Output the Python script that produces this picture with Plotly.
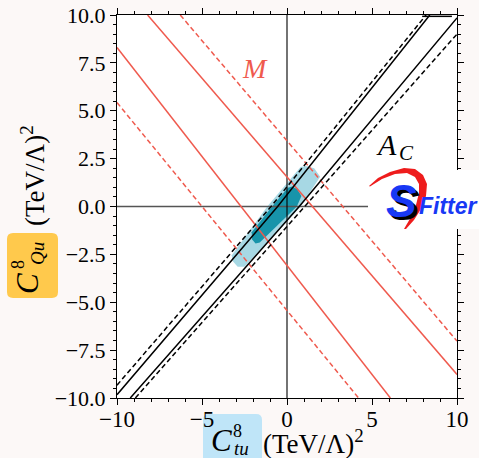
import plotly.graph_objects as go

# ---------------- data ----------------
# M constraint (red), straight bands
red_solid_a_x = [-10.0, 6.08];  red_solid_a_y = [8.3, -10.0]
red_solid_b_x = [-8.2, 10.0];   red_solid_b_y = [10.0, -8.77]
red_dash_a_x = [-10.0, 4.21];   red_dash_a_y = [5.43, -10.0]
red_dash_b_x = [-6.28, 10.0];   red_dash_b_y = [10.0, -7.03]

# A_C constraint (black)
blk_up_dash_x = [-10.0, -0.94, 8.18];  blk_up_dash_y = [-9.33, 0.0, 10.0]
blk_up_sol_x = [-10.0, -0.55, 8.4];    blk_up_sol_y = [-9.83, 0.0, 10.0]
blk_lo_sol_x = [-9.22, 0.72, 10.0];    blk_lo_sol_y = [-10.0, 0.0, 9.85]
blk_lo_dash_x = [-8.92, 1.02, 10.0];   blk_lo_dash_y = [-10.0, 0.0, 9.0]
blk_top_x = [7.95, 9.7];               blk_top_y = [9.93, 9.93]

# combined fit regions
light_x = [0.8, 1.1, 1.6, 1.95, 0.8, -2.5, -2.9, -3.2, -3.25, -1.16, 0.8]
light_y = [2.06, 2.12, 2.0, 1.55, 0.0, -3.15, -3.15, -2.85, -2.55, 0.0, 2.06]
dark_x = [0.05, 0.3, 0.6, 0.85, 0.58, -1.6, -1.85, -2.05, -2.08, -0.88, 0.05]
dark_y = [0.98, 1.04, 0.92, 0.55, 0.0, -1.88, -1.93, -1.72, -1.35, 0.0, 0.98]

x_tickvals = [-10, -5, 0, 5, 10]
x_ticktext = ["\u221210", "\u22125", "0", "5", "10"]
y_tickvals = [-10, -7.5, -5, -2.5, 0, 2.5, 5, 7.5, 10]
y_ticktext = ["\u221210.0", "\u22127.5", "\u22125.0", "\u22122.5", "0.0", "2.5", "5.0", "7.5", "10.0"]

# ---------------- layout helpers ----------------
W, H = 479, 458
L, R, T, B = 117, 457, 15, 398
SERIF = "Liberation Serif"
RED = "#ef5a4e"
LIGHT = "#a7d8e4"
DARK = "#1794aa"


def pp(x, y):
    return ((x - L) / (R - L), (B - y) / (B - T))


def rrect(x0, y0, x1, y1, r):
    def P(x, y):
        a, b = pp(x, y)
        return f"{a:.5f},{b:.5f}"
    s = f"M {P(x0 + r, y0)} L {P(x1 - r, y0)} Q {P(x1, y0)} {P(x1, y0 + r)} "
    s += f"L {P(x1, y1 - r)} Q {P(x1, y1)} {P(x1 - r, y1)} "
    s += f"L {P(x0 + r, y1)} Q {P(x0, y1)} {P(x0, y1 - r)} "
    s += f"L {P(x0, y0 + r)} Q {P(x0, y0)} {P(x0 + r, y0)} Z"
    return s


def path_px(points):
    parts = []
    for i, (x, y) in enumerate(points):
        a, b = pp(x, y)
        parts.append(("M " if i == 0 else "L ") + f"{a:.5f},{b:.5f}")
    return " ".join(parts) + " Z"


fig = go.Figure()

fig.add_trace(go.Scatter(x=light_x, y=light_y, fill="toself", fillcolor=LIGHT,
                         mode="lines", line=dict(width=0), hoverinfo="skip"))
fig.add_trace(go.Scatter(x=dark_x, y=dark_y, fill="toself", fillcolor=DARK,
                         mode="lines", line=dict(width=0), hoverinfo="skip"))

# zero lines
fig.add_trace(go.Scatter(x=[-10, 10], y=[0, 0], mode="lines", line=dict(color="#555555", width=1.6)))
fig.add_trace(go.Scatter(x=[0, 0], y=[-10, 10], mode="lines", line=dict(color="black", width=1.1)))

for xs, ys, d in [(red_solid_a_x, red_solid_a_y, "solid"), (red_solid_b_x, red_solid_b_y, "solid"),
                  (red_dash_a_x, red_dash_a_y, "5px,3px"), (red_dash_b_x, red_dash_b_y, "5px,3px")]:
    fig.add_trace(go.Scatter(x=xs, y=ys, mode="lines", line=dict(color=RED, width=1.5, dash=d)))

for xs, ys, d in [(blk_up_dash_x, blk_up_dash_y, "5px,3px"), (blk_up_sol_x, blk_up_sol_y, "solid"),
                  (blk_lo_sol_x, blk_lo_sol_y, "solid"), (blk_lo_dash_x, blk_lo_dash_y, "5px,3px"),
                  (blk_top_x, blk_top_y, "solid")]:
    fig.add_trace(go.Scatter(x=xs, y=ys, mode="lines", line=dict(color="black", width=1.5, dash=d)))

shapes = []
# label boxes
shapes.append(dict(type="path", xref="paper", yref="paper", layer="below",
                   path=rrect(7, 233, 58, 298, 6), fillcolor="#ffc94c", line=dict(width=0)))
shapes.append(dict(type="path", xref="paper", yref="paper", layer="below",
                   path=rrect(203, 414, 262, 466, 6), fillcolor="#bfe5f8", line=dict(width=0)))
# logo white background
x0, y0 = pp(368, 170)
x1, y1 = pp(479, 229)
shapes.append(dict(type="rect", xref="paper", yref="paper", layer="above",
                   x0=x0, x1=x1, y0=y1, y1=y0, fillcolor="white", line=dict(width=0)))
# red swoosh
swoosh = [(369, 186), (378, 178), (390, 172), (404, 168), (415, 169), (423, 175), (427, 184),
          (426, 196), (421, 209), (414, 220), (406, 229), (404, 229), (411, 217), (416, 205),
          (419, 193), (419, 184), (415, 177), (407, 173), (395, 174), (382, 179), (370, 186.5)]
shapes.append(dict(type="path", xref="paper", yref="paper", layer="above",
                   path=path_px(swoosh), fillcolor="#ee1c1c", line=dict(width=0)))

ann = []


def A(text, x, y, size, color="black", angle=0, family=SERIF, xa="center", ya="middle"):
    a, b = pp(x, y)
    ann.append(dict(text=text, x=a, y=b, xref="paper", yref="paper", showarrow=False,
                    xanchor=xa, yanchor=ya, textangle=angle,
                    font=dict(family=family, size=size, color=color)))


# logo text
A("<b><i>S</i></b>", 404, 204, 46, color="black", family="Liberation Sans")
A("<b><i>S</i></b>", 401, 201, 46, color="#1838f5", family="Liberation Sans")
A("<b><i>Fitter</i></b>", 448, 206, 23, color="#1838f5", family="Liberation Sans")

# in-plot labels
A("<i>M</i>", 255, 68, 28, color=RED)
A("<i>A</i>", 386, 144, 30)
A("<i>C</i>", 406, 153, 21)

# x label
A("<i>C</i>", 221, 440, 31)
A("8", 237, 431, 18)
A("<i>tu</i>", 241, 448, 19)
A("(TeV/\u039b)<sup>2</sup>", 313, 442, 27)

# y label (rotated)
A("<i>C</i>", 27, 284, 31, angle=-90)
A("8", 18, 265, 18, angle=-90)
A("<i>Qu</i>", 37, 254, 19, angle=-90)
A("(TeV/\u039b)<sup>2</sup>", 33, 176, 27, angle=-90)

fig.update_layout(
    width=W, height=H, showlegend=False,
    margin=dict(l=L, r=W - R, t=T, b=H - B, pad=0, autoexpand=False),
    paper_bgcolor="#fcf8f7", plot_bgcolor="white",
    shapes=shapes, annotations=ann,
    font=dict(family=SERIF, size=20, color="black"),
)
fig.update_xaxes(range=[-10, 10], tickvals=x_tickvals, ticktext=x_ticktext, automargin=False,
                 ticks="outside", ticklen=6, tickwidth=1, tickcolor="black",
                 showline=True, linecolor="black", linewidth=1, mirror="allticks",
                 showgrid=False, zeroline=False, ticklabelstandoff=-6,
                 tickfont=dict(family=SERIF, size=23),
                 minor=dict(ticks="outside", dtick=1, ticklen=3, tickcolor="black", showgrid=False))
fig.update_yaxes(range=[-10, 10], tickvals=y_tickvals, ticktext=y_ticktext, automargin=False,
                 ticks="outside", ticklen=6, tickwidth=1, tickcolor="black",
                 showline=True, linecolor="black", linewidth=1, mirror="allticks",
                 showgrid=False, zeroline=False,
                 tickfont=dict(family=SERIF, size=22),
                 minor=dict(ticks="outside", dtick=0.5, ticklen=3, tickcolor="black", showgrid=False))

fig.write_html("out.html", config={"displayModeBar": False},
               post_script="document.body.style.margin='0';document.body.style.overflow='hidden';")
